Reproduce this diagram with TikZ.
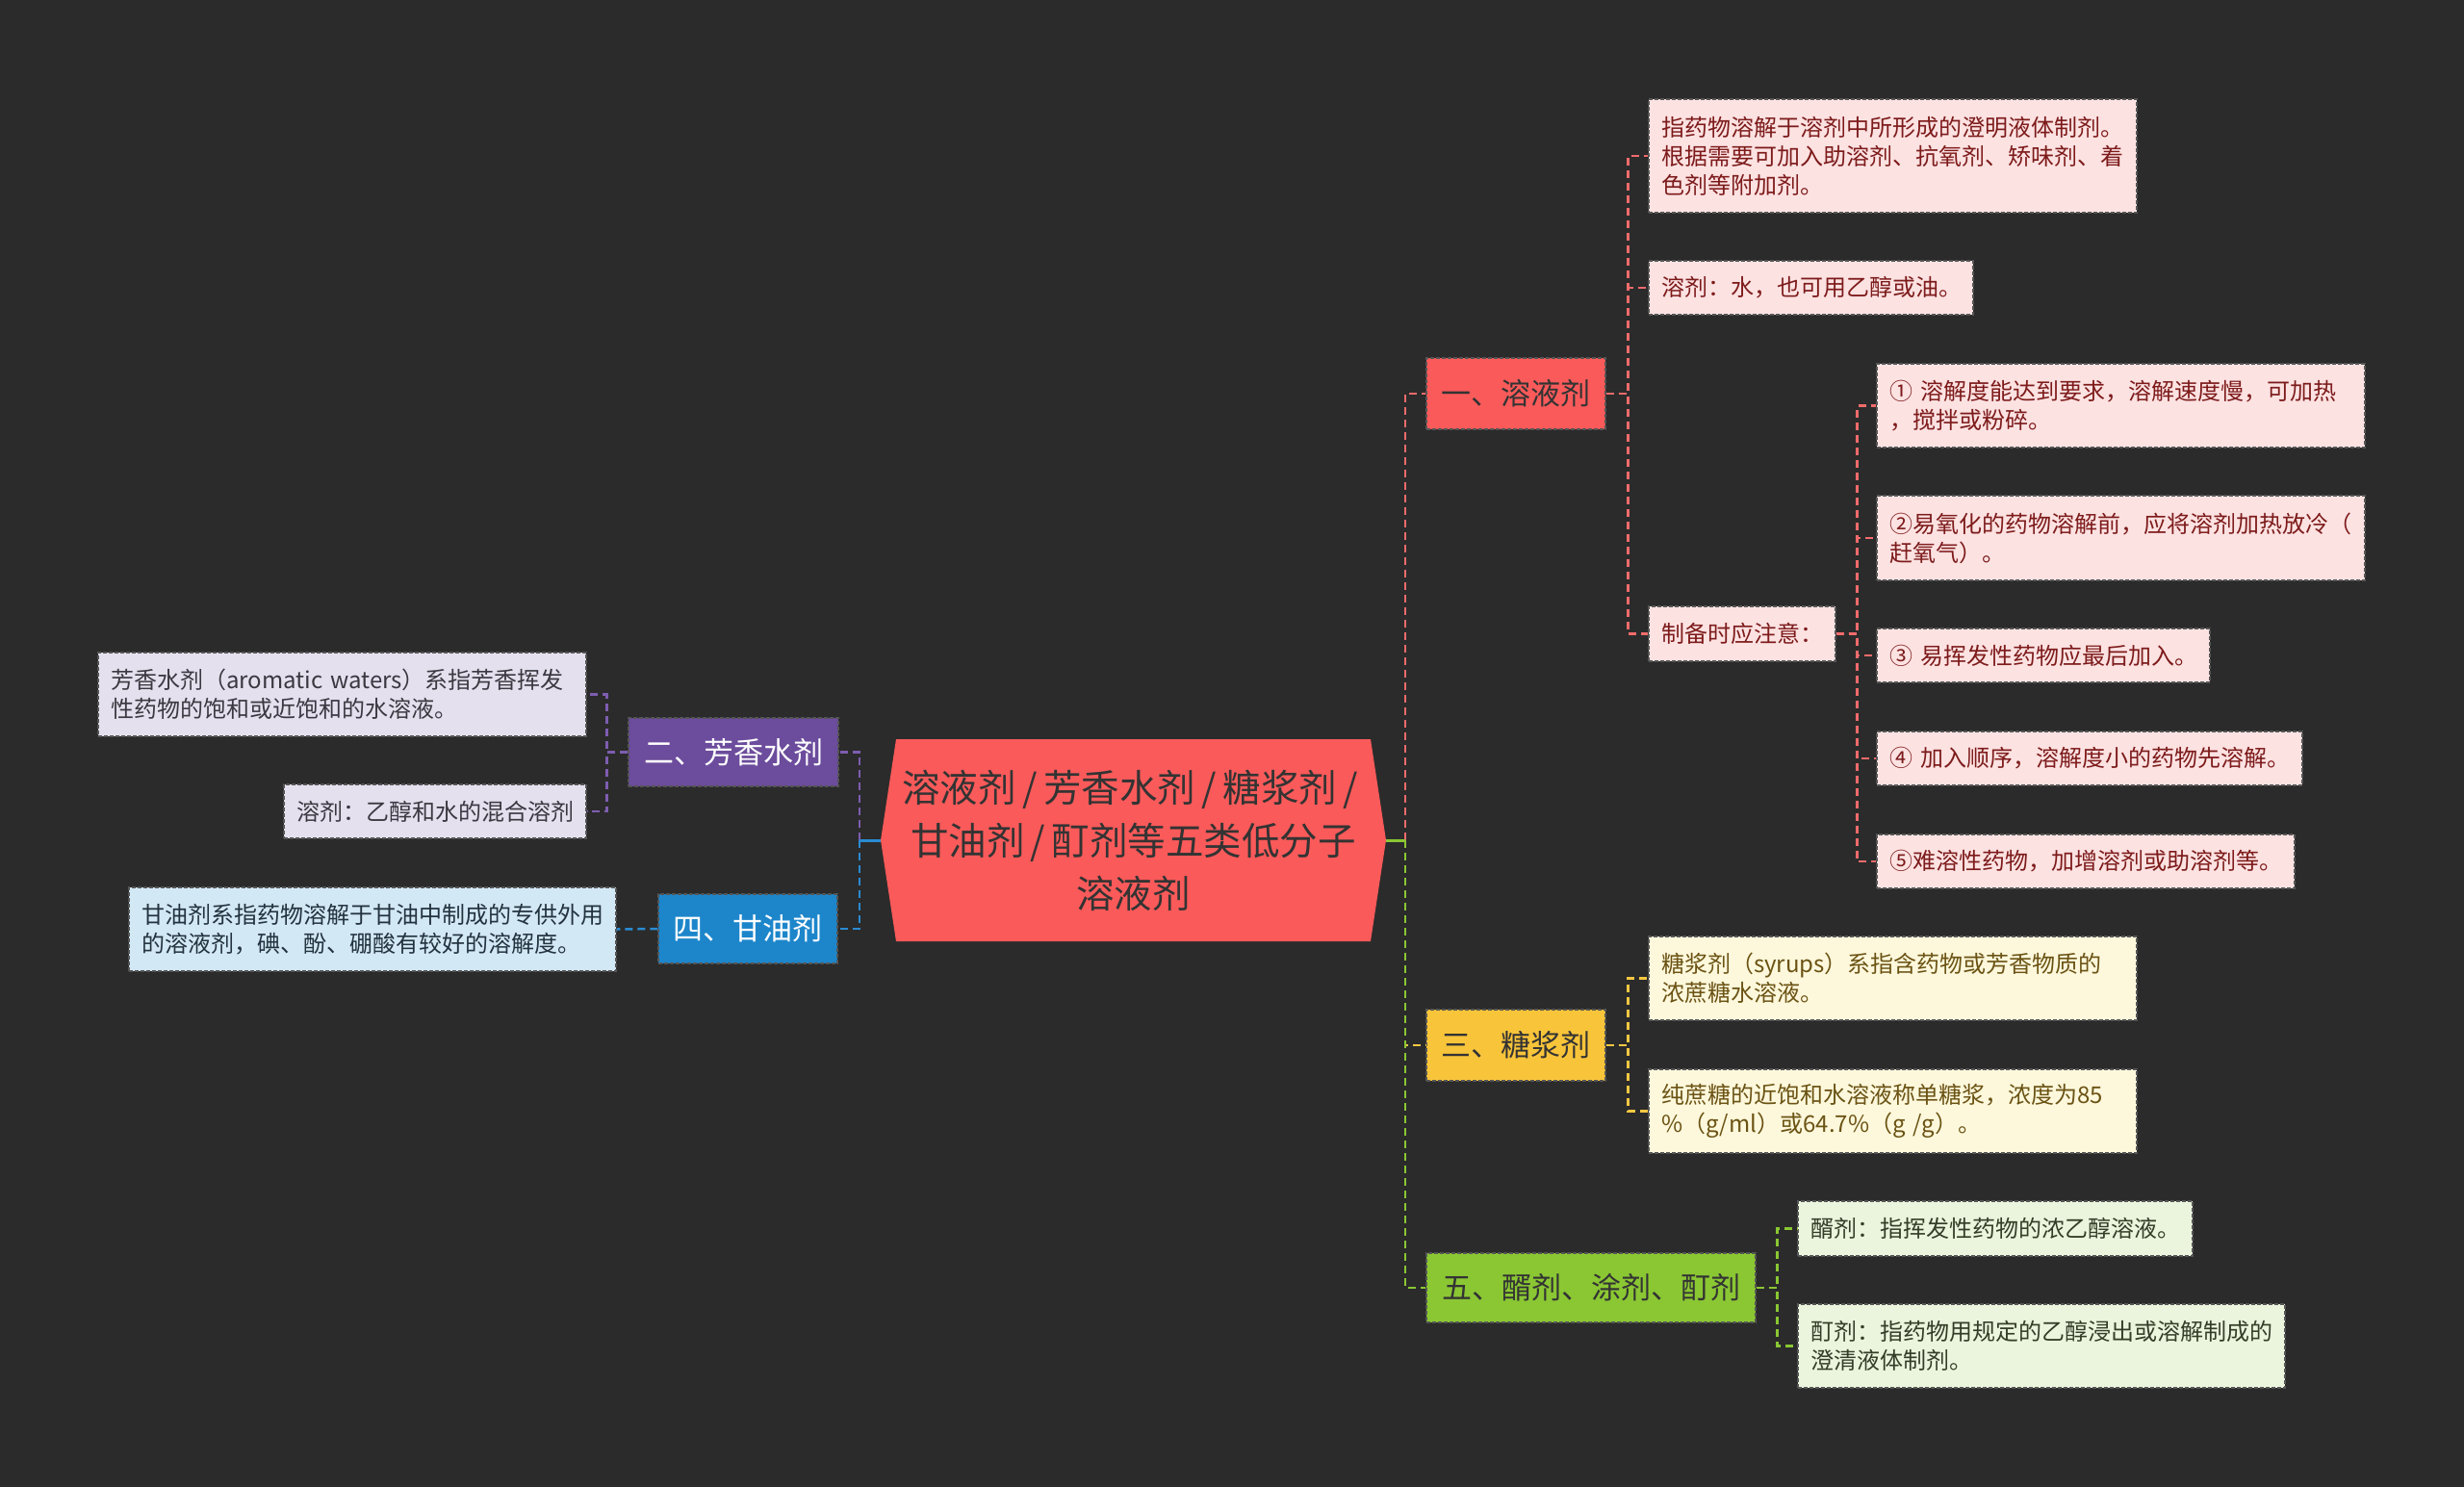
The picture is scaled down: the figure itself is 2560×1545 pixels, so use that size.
\documentclass[tikz,border=0pt]{standalone}
\usepackage{fontspec}
\setmainfont{Noto Sans CJK SC}
\definecolor{bg}{HTML}{2B2B2B}
\definecolor{cRed}{HTML}{FA5A5A}
\definecolor{cRedLine}{HTML}{F26B6B}
\definecolor{cPink}{HTML}{FDE2E2}
\definecolor{tPink}{HTML}{7D1B1B}
\definecolor{cPur}{HTML}{6C4C9C}
\definecolor{cPurLine}{HTML}{7E5DB0}
\definecolor{cLav}{HTML}{E4E0EE}
\definecolor{tLav}{HTML}{3A3840}
\definecolor{cBlu}{HTML}{1D86CB}
\definecolor{cBluLine}{HTML}{2A8BD2}
\definecolor{cSky}{HTML}{D3E8F5}
\definecolor{tSky}{HTML}{23323F}
\definecolor{cYel}{HTML}{F8C43A}
\definecolor{cYelLine}{HTML}{F5C842}
\definecolor{cCream}{HTML}{FDF8DC}
\definecolor{tCream}{HTML}{6B5314}
\definecolor{cGrn}{HTML}{8AC733}
\definecolor{cMint}{HTML}{EBF4DD}
\definecolor{tMint}{HTML}{333D27}
\definecolor{dark}{HTML}{333333}
\definecolor{edge}{HTML}{555555}
\newcommand\slsh{\makebox[0.72em]{/}}
\begin{document}
\begin{tikzpicture}[x=1pt,y=-1pt,
  box/.style={rectangle, inner xsep=13pt, inner ysep=0pt, align=left,
    font=\fontsize{24}{30}\selectfont, draw=edge, line width=1.2pt,
    dash pattern=on 4pt off 2pt},
  pinkbox/.style={box, fill=cPink, text=tPink},
  lavbox/.style={box, fill=cLav, text=tLav},
  skybox/.style={box, fill=cSky, text=tSky},
  creambox/.style={box, fill=cCream, text=tCream},
  mintbox/.style={box, fill=cMint, text=tMint},
  topic/.style={rectangle, inner sep=0pt, font=\fontsize{31}{36}\selectfont,
    draw=edge, line width=1.2pt, dash pattern=on 4pt off 2pt},
  con/.style={line width=2.5pt, dash pattern=on 8pt off 5pt},
  stub/.style={line width=3pt}
]
\useasboundingbox (0,0) rectangle (2560,1545);
\fill[bg] (0,0) rectangle (2560,1545);

% root
\fill[cRed] (931,768) -- (1424,768) -- (1440,873) -- (1424,978) -- (931,978) -- (915,873) -- cycle;
\node[inner sep=0pt, minimum width=525pt, minimum height=210pt, align=center,
  font=\fontsize{39.5}{55}\selectfont, text=dark] (root) at (1177.5,873)
  {溶液剂\slsh 芳香水剂\slsh 糖浆剂\slsh\\甘油剂\slsh 酊剂等五类低分子\\溶液剂};

% main topics
\node[topic, fill=cRed, text=dark, minimum width=186pt, minimum height=74pt] (n1) at (1575,409) {一、溶液剂};
\node[topic, fill=cPur, text=white, minimum width=218pt, minimum height=71pt] (n2) at (762,781.5) {二、芳香水剂};
\node[topic, fill=cYel, text=dark, minimum width=186pt, minimum height=74pt] (n3) at (1575,1086) {三、糖浆剂};
\node[topic, fill=cBlu, text=white, minimum width=186pt, minimum height=72pt] (n4) at (777,965) {四、甘油剂};
\node[topic, fill=cGrn, text=dark, minimum width=342pt, minimum height=72pt] (n5) at (1653,1338) {五、醑剂、涂剂、酊剂};

% red branch
\node[pinkbox, text width=481pt, minimum height=118pt] (t1) at (1966.5,162)
  {指药物溶解于溶剂中所形成的澄明液体制剂。\\根据需要可加入助溶剂、抗氧剂、矫味剂、着\\色剂等附加剂。};
\node[pinkbox, text width=311pt, minimum height=56pt] (t2) at (1881.5,299)
  {溶剂：水，也可用乙醇或油。};
\node[pinkbox, text width=168pt, minimum height=57pt] (t3) at (1810,658.5)
  {制备时应注意：};
\node[pinkbox, text width=481pt, minimum height=87pt] (s1) at (2203.5,421.5)
  {① 溶解度能达到要求，溶解速度慢，可加热\\，搅拌或粉碎。};
\node[pinkbox, text width=481pt, minimum height=88pt] (s2) at (2203.5,559)
  {②易氧化的药物溶解前，应将溶剂加热放冷（\\赶氧气）。};
\node[pinkbox, text width=320pt, minimum height=56pt] (s3) at (2123,681)
  {③ 易挥发性药物应最后加入。};
\node[pinkbox, text width=416pt, minimum height=56pt] (s4) at (2171,788)
  {④ 加入顺序，溶解度小的药物先溶解。};
\node[pinkbox, text width=408pt, minimum height=56pt] (s5) at (2167,895)
  {⑤难溶性药物，加增溶剂或助溶剂等。};

% yellow branch
\node[creambox, text width=481pt, minimum height=87pt] (y1) at (1966.5,1016.5)
  {糖浆剂（syrups）系指含药物或芳香物质的\\浓蔗糖水溶液。};
\node[creambox, text width=481pt, minimum height=87pt] (y2) at (1966.5,1154.5)
  {纯蔗糖的近饱和水溶液称单糖浆，浓度为85\\\%（g/ml）或64.7\%（g /g）。};

% green branch
\node[mintbox, text width=384pt, minimum height=57pt] (g1) at (2073,1276.5)
  {醑剂：指挥发性药物的浓乙醇溶液。};
\node[mintbox, text width=480pt, minimum height=87pt] (g2) at (2121,1398.5)
  {酊剂：指药物用规定的乙醇浸出或溶解制成的\\澄清液体制剂。};

% purple branch
\node[lavbox, text width=481pt, minimum height=87pt] (p1) at (355.5,721.5)
  {芳香水剂（aromatic~waters）系指芳香挥发\\性药物的饱和或近饱和的水溶液。};
\node[lavbox, text width=288pt, minimum height=56pt] (p2) at (452,843)
  {溶剂：乙醇和水的混合溶剂};

% blue branch
\node[skybox, text width=480pt, minimum height=87pt] (b1) at (387,965.5)
  {甘油剂系指药物溶解于甘油中制成的专供外用\\的溶液剂，碘、酚、硼酸有较好的溶解度。};

% connectors from root
\coordinate (rj) at (1460,873);
\coordinate (lj) at (893,873);
\draw[con, cRedLine] (rj) |- (n1.west);
\draw[con, cYelLine] (rj) |- (n3.west);
\draw[con, cGrn] (rj) |- (n5.west);
\draw[stub, cGrn] (root.east) -- (rj);
\draw[con, cPurLine] (lj) |- (n2.east);
\draw[con, cBluLine] (lj) |- (n4.east);
\draw[stub, cBluLine] (root.west) -- (lj);

% sub connectors
\foreach \c in {t1,t2,t3} \draw[con, cRedLine] (n1.east) -- ++(23,0) |- (\c.west);
\foreach \c in {s1,s2,s3,s4,s5} \draw[con, cRedLine] (t3.east) -- ++(22,0) |- (\c.west);
\foreach \c in {y1,y2} \draw[con, cYelLine] (n3.east) -- ++(23,0) |- (\c.west);
\foreach \c in {g1,g2} \draw[con, cGrn] (n5.east) -- ++(22,0) |- (\c.west);
\foreach \c in {p1,p2} \draw[con, cPurLine] (n2.west) -- ++(-22,0) |- (\c.east);
\draw[con, cBluLine] (n4.west) -- (b1.east);
\end{tikzpicture}
\end{document}
